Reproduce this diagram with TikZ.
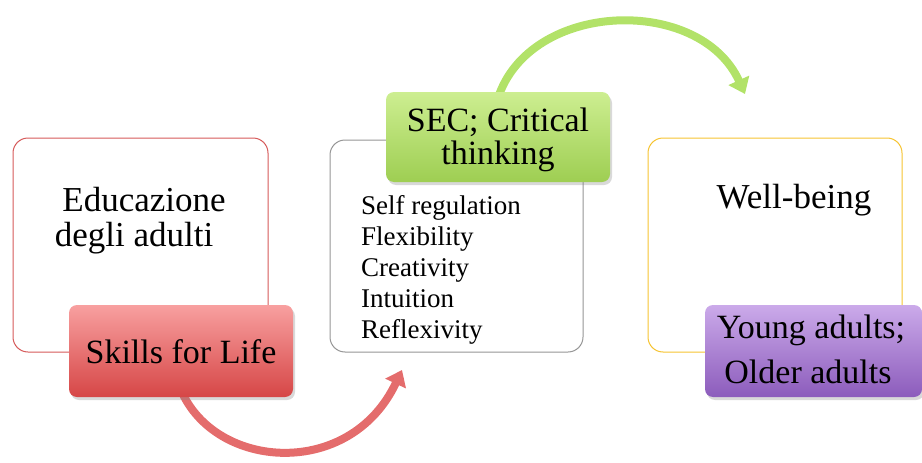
\documentclass[tikz,border=0pt]{standalone}
\usepackage{fontspec}
\setmainfont{Liberation Serif}
\usetikzlibrary{arrows.meta,shadows}
\definecolor{redline}{RGB}{214,90,90}
\definecolor{grayline}{RGB}{150,150,150}
\definecolor{goldline}{RGB}{246,196,50}
\definecolor{redtop}{RGB}{248,160,160}
\definecolor{redbot}{RGB}{214,70,70}
\definecolor{greentop}{RGB}{205,238,145}
\definecolor{greenbot}{RGB}{158,206,82}
\definecolor{purptop}{RGB}{203,170,234}
\definecolor{purpbot}{RGB}{140,92,188}
\definecolor{redarrow}{RGB}{228,108,108}
\definecolor{greenarrow}{RGB}{178,226,104}
\tikzset{
  outerbox/.style={draw, line width=1pt, rounded corners=15pt, fill=white, inner sep=0pt},
  tagbox/.style={rounded corners=8pt, inner sep=0pt,
    drop shadow={opacity=0.3, shadow xshift=2pt, shadow yshift=-3pt}},
  bigtxt/.style={inner sep=0pt, font=\fontsize{34}{36}\selectfont},
  listtxt/.style={inner sep=0pt, anchor=base west, font=\fontsize{27}{31}\selectfont},
  flow/.style={line width=8pt, -{Triangle[width=22pt,length=15pt]}}
}
\begin{document}
\begin{tikzpicture}[x=1pt,y=-1pt]
\useasboundingbox (0,0) rectangle (922,463);
\coordinate (redend) at (402,370);
\coordinate (greenend) at (745,94);
% boxes
\node (b1) [outerbox, draw=redline, minimum width=255pt, minimum height=214pt] at (140.5,245) {};
\node (b2) [outerbox, draw=grayline, minimum width=253pt, minimum height=212pt] at (456.5,246) {};
\node (b3) [outerbox, draw=goldline, minimum width=254pt, minimum height=214pt] at (775,245) {};
% arrows
\draw[flow, redarrow] (181,390) .. controls (215,470) and (350,480) .. (redend);
\draw[flow, greenarrow] (498,98) .. controls (530,0) and (700,-5) .. (greenend);
% tags
\node (skills) [tagbox, top color=redtop, bottom color=redbot, minimum width=224pt, minimum height=92pt] at (181,351) {};
\node (sec) [tagbox, top color=greentop, bottom color=greenbot, minimum width=224pt, minimum height=90pt] at (498,137) {};
\node (ya) [tagbox, top color=purptop, bottom color=purpbot, minimum width=217pt, minimum height=92pt] at (813.5,351) {};
% texts
\node (t1a) [bigtxt, anchor=base, font=\fontsize{35}{36}\selectfont] at (144,211) {Educazione};
\node (t1b) [bigtxt, anchor=base, font=\fontsize{35}{36}\selectfont] at (134,246) {degli adulti};
\node (t2) [bigtxt, anchor=base] at (181,363) {Skills for Life};
\node (t3a) [bigtxt, anchor=base] at (498,131) {SEC; Critical};
\node (t3b) [bigtxt, anchor=base] at (498,164) {thinking};
\node (l1) [listtxt] at (361,214) {Self regulation};
\node (l2) [listtxt] at (361,245) {Flexibility};
\node (l3) [listtxt] at (361,276) {Creativity};
\node (l4) [listtxt] at (361,307) {Intuition};
\node (l5) [listtxt] at (361,338) {Reflexivity};
\node (t4) [bigtxt, anchor=base, font=\fontsize{35}{36}\selectfont] at (794,208) {Well-being};
\node (t5a) [bigtxt, anchor=base] at (811,338) {Young adults;};
\node (t5b) [bigtxt, anchor=base] at (808,383) {Older adults};
\end{tikzpicture}
\end{document}
